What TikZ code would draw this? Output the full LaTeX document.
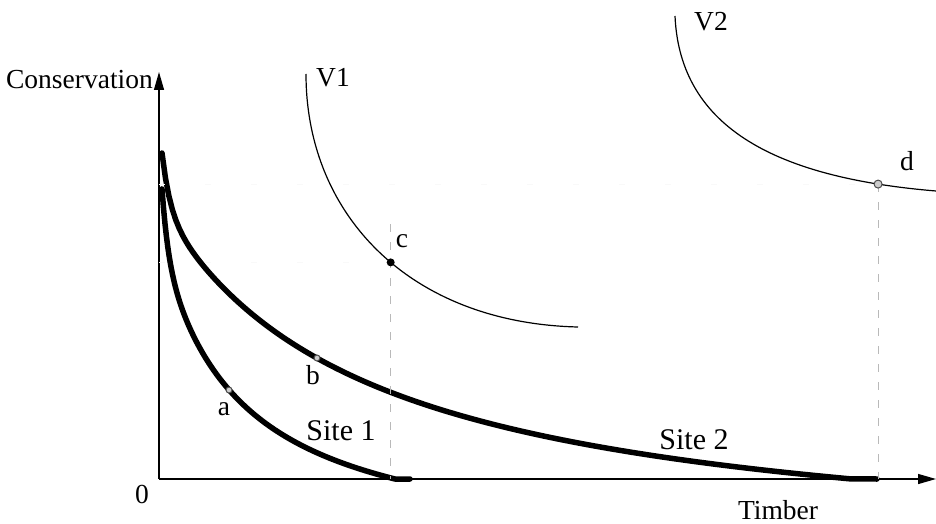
\documentclass[tikz,border=0pt]{standalone}
\usepackage{fontspec}
\setmainfont{Liberation Serif}
\usetikzlibrary{arrows.meta}
\begin{document}
\begin{tikzpicture}[x=1pt,y=-1pt,
  lbl/.style={inner sep=0pt,font=\fontsize{27.5}{29}\selectfont},
  sitelbl/.style={inner sep=0pt,font=\fontsize{30}{32}\selectfont},
  axis/.style={line width=1.3pt,-{Triangle[length=18pt,width=10pt]}},
  ppf/.style={line width=5.5pt,line cap=round,line join=round},
  indiff/.style={line width=1.2pt},
  guide/.style={gray!55,line width=1pt,dash pattern=on 8pt off 10pt},
  faint/.style={gray!5,line width=0.8pt,dash pattern=on 6pt off 40pt},
  opendot/.style={circle,draw=black!70,fill=gray!40,line width=1pt,inner sep=0pt,minimum size=6pt},
  fulldot/.style={circle,fill=black,inner sep=0pt,minimum size=8pt}]
\useasboundingbox (0,0) rectangle (936,524);
\fill[white] (0,0) rectangle (936,524);
% axes
\coordinate (O) at (159,479);
\coordinate (ytop) at (159,72);
\coordinate (xend) at (936,479);
\draw[axis] (O) -- (ytop);
\draw[axis] (O) -- (xend);
\node[lbl] (zero) at (142,494) {0};
\node[lbl,anchor=east] (cons) at (153,80) {Conservation};
\node[lbl] (timber) at (778,510) {Timber};
% Site 1
\draw[ppf] plot[domain=162:395,samples=160] (\x,{479-(24.718/((\x-82)/1000)-78.97+60*exp(-(\x-162)/6))}) -- (410,479);
% Site 2
\draw[ppf] plot[domain=162:850,samples=200] (\x,{479-(74.23/((\x+48)/1000)-82.5+55*exp(-(\x-162)/8))}) -- (877,479);
% V1
\draw[indiff] (306,74) .. controls (306,215) and (410,323) .. (578,327)
  coordinate[pos=0.54] (cpt);
% V2
\draw[indiff] (675,16) .. controls (680,130) and (780,178) .. (936,191)
  coordinate[pos=0.87] (dpt);
% guides
\coordinate (cax) at (cpt |- O);
\coordinate (dax) at (dpt |- O);
\coordinate (cyx) at (O |- cpt);
\coordinate (dyx) at (O |- dpt);
\draw[faint] (cyx) -- (cpt);
\draw[faint] (dyx) -- (dpt);
\draw[guide] ([yshift=38pt]cpt) -- (cax);
\draw[guide] (dpt) -- (dax);
% dots
\node[opendot] (a) at (229,390) {};
\node[opendot] (b) at (317,358) {};
\node[fulldot] (c) at (cpt) {};
\node[opendot,minimum size=8pt] (d) at (dpt) {};
\node[lbl] (alab) at (224,409) {a};
\node[lbl] (blab) at (313,375) {b};
\node[lbl] (clab) at (402,241) {c};
\node[lbl] (dlab) at (907,161) {d};
\node[lbl] (v1lab) at (333,78) {V1};
\node[lbl] (v2lab) at (711,22) {V2};
\node[sitelbl] (s1) at (341,431) {Site 1};
\node[sitelbl] (s2) at (694,440) {Site 2};
\end{tikzpicture}
\end{document}
